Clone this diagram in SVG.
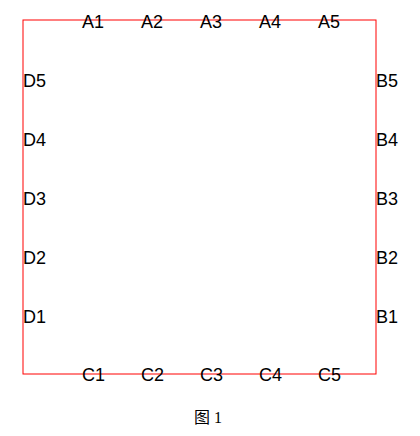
<svg xmlns="http://www.w3.org/2000/svg" width="420" height="436" viewBox="0 0 420 436">
<style>
.lbl{font-family:"Liberation Sans",Arial,sans-serif;font-size:18px;fill:#000}
.cap{font-family:"Liberation Serif","Noto Sans CJK SC",serif;font-size:16px;fill:#000}
</style>
<rect width="420" height="436" fill="#fff"/>
<g id="frame"><rect x="23" y="20" width="353" height="354" fill="none" stroke="#ff0000" stroke-width="1"/></g>
<g id="labels-a">
<text class="lbl" x="82" y="28">A1</text>
<text class="lbl" x="141" y="28">A2</text>
<text class="lbl" x="200" y="28">A3</text>
<text class="lbl" x="259" y="28">A4</text>
<text class="lbl" x="318" y="28">A5</text>
</g>
<g id="labels-b">
<text class="lbl" x="376" y="87">B5</text>
<text class="lbl" x="376" y="146">B4</text>
<text class="lbl" x="376" y="205">B3</text>
<text class="lbl" x="376" y="264">B2</text>
<text class="lbl" x="376" y="323">B1</text>
</g>
<g id="labels-c">
<text class="lbl" x="82" y="381">C1</text>
<text class="lbl" x="141" y="381">C2</text>
<text class="lbl" x="200" y="381">C3</text>
<text class="lbl" x="259" y="381">C4</text>
<text class="lbl" x="318" y="381">C5</text>
</g>
<g id="labels-d">
<text class="lbl" x="23" y="87">D5</text>
<text class="lbl" x="23" y="146">D4</text>
<text class="lbl" x="23" y="205">D3</text>
<text class="lbl" x="23" y="264">D2</text>
<text class="lbl" x="23" y="323">D1</text>
</g>
<g id="caption"><text class="cap" x="208" y="423" text-anchor="middle">图 1</text></g>
</svg>
